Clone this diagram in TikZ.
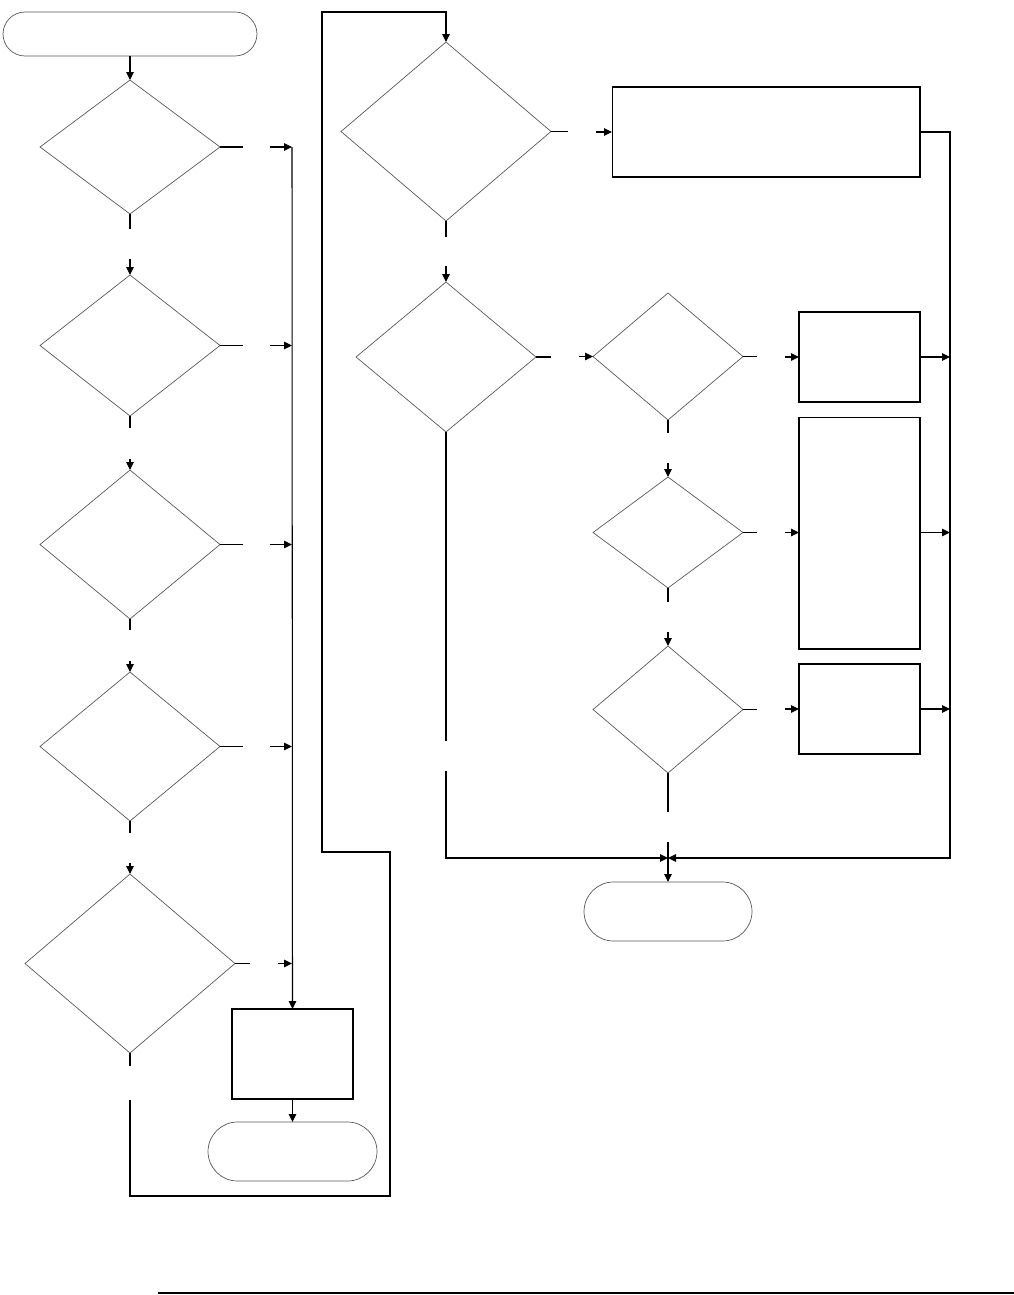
\documentclass[tikz,border=0pt]{standalone}
\usetikzlibrary{shapes.geometric,arrows.meta}
\begin{document}
\begin{tikzpicture}[x=0.02cm,y=-0.02cm]
\tikzstyle{every node}+=[inner sep=0pt,outer sep=0pt]
\tikzstyle{dec}=[diamond,draw=black!65,line width=0.4pt]
\tikzstyle{proc}=[rectangle,draw=black,line width=0.6pt]
\tikzstyle{term}=[rectangle,draw=black!65,line width=0.4pt]
\tikzstyle{line}=[draw=black,line width=0.6pt]
\tikzstyle{arr}=[line,-{Triangle[length=0.16cm,width=0.15cm]}]
\useasboundingbox (0,0) rectangle (1014,1295);
\node[term,minimum width=5.08cm,minimum height=0.88cm,rounded corners=0.44cm] (start) at (130,34) {};
\node[dec,minimum width=3.6cm,minimum height=2.68cm] (dA) at (130,147) {};
\node[dec,minimum width=3.6cm,minimum height=2.82cm] (dB) at (130,345.5) {};
\node[dec,minimum width=3.6cm,minimum height=2.98cm] (dC) at (130,544.5) {};
\node[dec,minimum width=3.6cm,minimum height=2.98cm] (dD) at (130,746.5) {};
\node[dec,minimum width=4.2cm,minimum height=3.58cm] (dE) at (130,963.5) {};
\node[proc,minimum width=2.42cm,minimum height=1.8cm] (pA) at (292.5,1054) {};
\node[term,minimum width=3.38cm,minimum height=1.18cm,rounded corners=0.59cm] (stopA) at (292.5,1151.5) {};
\node[dec,minimum width=4.2cm,minimum height=3.58cm] (dF) at (446,131.5) {};
\node[proc,minimum width=6.16cm,minimum height=1.8cm] (pB) at (766,132) {};
\node[dec,minimum width=3.6cm,minimum height=3.0cm] (dG) at (446,357) {};
\node[dec,minimum width=3.0cm,minimum height=2.54cm] (dH) at (668,356.5) {};
\node[proc,minimum width=2.42cm,minimum height=1.8cm] (pC) at (859.5,357) {};
\node[dec,minimum width=3.0cm,minimum height=2.22cm] (dI) at (668,532.5) {};
\node[proc,minimum width=2.42cm,minimum height=4.64cm] (pD) at (859.5,533) {};
\node[dec,minimum width=3.0cm,minimum height=2.54cm] (dJ) at (668,709.5) {};
\node[proc,minimum width=2.42cm,minimum height=1.8cm] (pE) at (859.5,709) {};
\node[term,minimum width=3.36cm,minimum height=1.18cm,rounded corners=0.59cm] (stopB) at (668,911.5) {};
\coordinate (bus) at (292,147);
\coordinate (lpA) at (130,1100);
\coordinate (lpB) at (390,1196);
\coordinate (lpC) at (322,852);
\coordinate (lpD) at (446,12);
\coordinate (rbus) at (950,858);
\coordinate (jn) at (668,858);
\coordinate (gA) at (446,741);
\coordinate (gB) at (446,771);
\coordinate (gC) at (668,812);
\coordinate (gD) at (668,842);
\coordinate (ftA) at (158,1293);
\coordinate (ftB) at (1014,1293);
\draw[arr] (start.south) -- (dA.north);
\draw[line] (dA.south) -- ++(0,15);
\draw[arr] (dB.north) ++(0,-16) -- (dB.north);
\draw[line] (dB.south) -- ++(0,12);
\draw[arr] (dC.north) ++(0,-11) -- (dC.north);
\draw[line] (dC.south) -- ++(0,11);
\draw[arr] (dD.north) ++(0,-11) -- (dD.north);
\draw[line] (dD.south) -- ++(0,12);
\draw[arr] (dE.north) ++(0,-11) -- (dE.north);
\draw[line] (dE.south) -- ++(0,13);
\draw[line] (dA.east) -- ++(23,0);
\draw[arr] (bus |- dA) ++(-22,0) -- (bus |- dA);
\draw[line] (dB.east) -- ++(23,0);
\draw[arr] (bus |- dB) ++(-22,0) -- (bus |- dB);
\draw[line] (dC.east) -- ++(23,0);
\draw[arr] (bus |- dC) ++(-22,0) -- (bus |- dC);
\draw[line] (dD.east) -- ++(23,0);
\draw[arr] (bus |- dD) ++(-22,0) -- (bus |- dD);
\draw[line] (dE.east) -- ++(15,0);
\draw[arr] (bus |- dE) ++(-14,0) -- (bus |- dE);
\draw[arr] (bus) -- (pA.north);
\draw[arr] (pA.south) -- (stopA.north);
\draw[arr] (lpA) |- (lpB) |- (lpC) |- (lpD) -- (dF.north);
\draw[line] (dF.east) -- ++(17,0);
\draw[arr] (pB.west) ++(-16,0) -- (pB.west);
\draw[line] (dF.south) -- ++(0,16);
\draw[arr] (dG.north) ++(0,-16) -- (dG.north);
\draw[line] (dG.east) -- ++(15,0);
\draw[arr] (dH.west) ++(-14,0) -- (dH.west);
\draw[line] (dH.east) -- ++(14,0);
\draw[arr] (pC.west) ++(-14,0) -- (pC.west);
\draw[line] (dH.south) -- ++(0,13);
\draw[arr] (dI.north) ++(0,-14) -- (dI.north);
\draw[line] (dI.east) -- ++(14,0);
\draw[arr] (pD.west |- dI) ++(-14,0) -- (pD.west |- dI);
\draw[line] (dI.south) -- ++(0,14);
\draw[arr] (dJ.north) ++(0,-14) -- (dJ.north);
\draw[line] (dJ.east) -- ++(14,0);
\draw[arr] (pE.west) ++(-14,0) -- (pE.west);
\draw[line] (dJ.south) -- (gC);
\draw[arr] (gD) -- (stopB.north);
\draw[line] (dG.south) -- (gA);
\draw[arr] (gB) |- (jn);
\draw[arr] (pB.east) -| (rbus) -- (jn);
\draw[arr] (pC.east) -- (pC.east -| rbus);
\draw[arr] (pD.east |- dI) -- (rbus |- dI);
\draw[arr] (pE.east) -- (pE.east -| rbus);
\draw[line] (ftA) -- (ftB);
\end{tikzpicture}
\end{document}
